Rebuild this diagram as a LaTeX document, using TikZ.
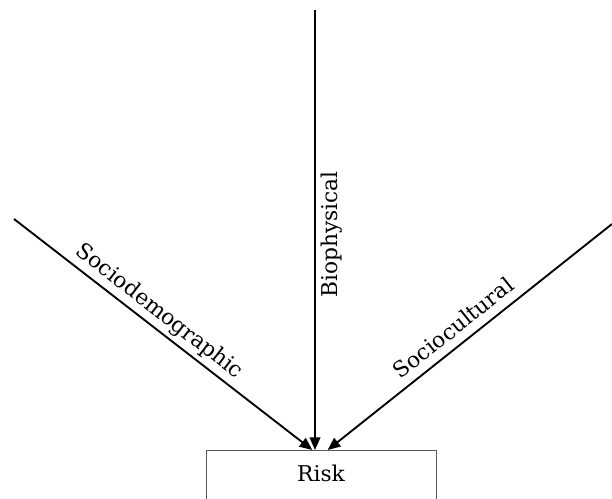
\documentclass[tikz,border=0pt]{standalone}
\usepackage{fontspec}
\setmainfont{DejaVu Serif}
\usetikzlibrary{arrows.meta}

\begin{document}
\begin{tikzpicture}[x=0.75pt,y=0.75pt,
    >={Triangle[length=9.5pt,width=8pt]},
    every node/.style={font=\fontsize{16.3pt}{19pt}\selectfont},
    factor/.style={line width=1.4pt},
    tag/.style={text depth=0.25em,inner sep=4pt},
    outcome/.style={draw=black!65,line width=0.6pt,anchor=north,
      minimum width=172.5pt,inner ysep=9pt,text height=14pt,text depth=20pt}]
  \useasboundingbox (0,0) rectangle (612,499);

  \path
  (14,280)   coordinate(demo)
  (315,489)  coordinate(bio)
  (612,275)  coordinate(cult)

  (321,49)   node[outcome](risk) {Risk}
  ;

  \draw[factor,->] (demo) -- ([xshift=-6.5pt]risk.north)
    node[tag,pos=0.455,sloped,above] {Sociodemographic};
  \draw[factor,->] (bio) -- ([xshift=-4.5pt]risk.north)
    node[tag,pos=0.51,anchor=north,rotate=90] {Biophysical};
  \draw[factor,->] (cult) -- ([xshift=5pt]risk.north)
    node[tag,pos=0.52,sloped,above] {Sociocultural};

\end{tikzpicture}
\end{document}
